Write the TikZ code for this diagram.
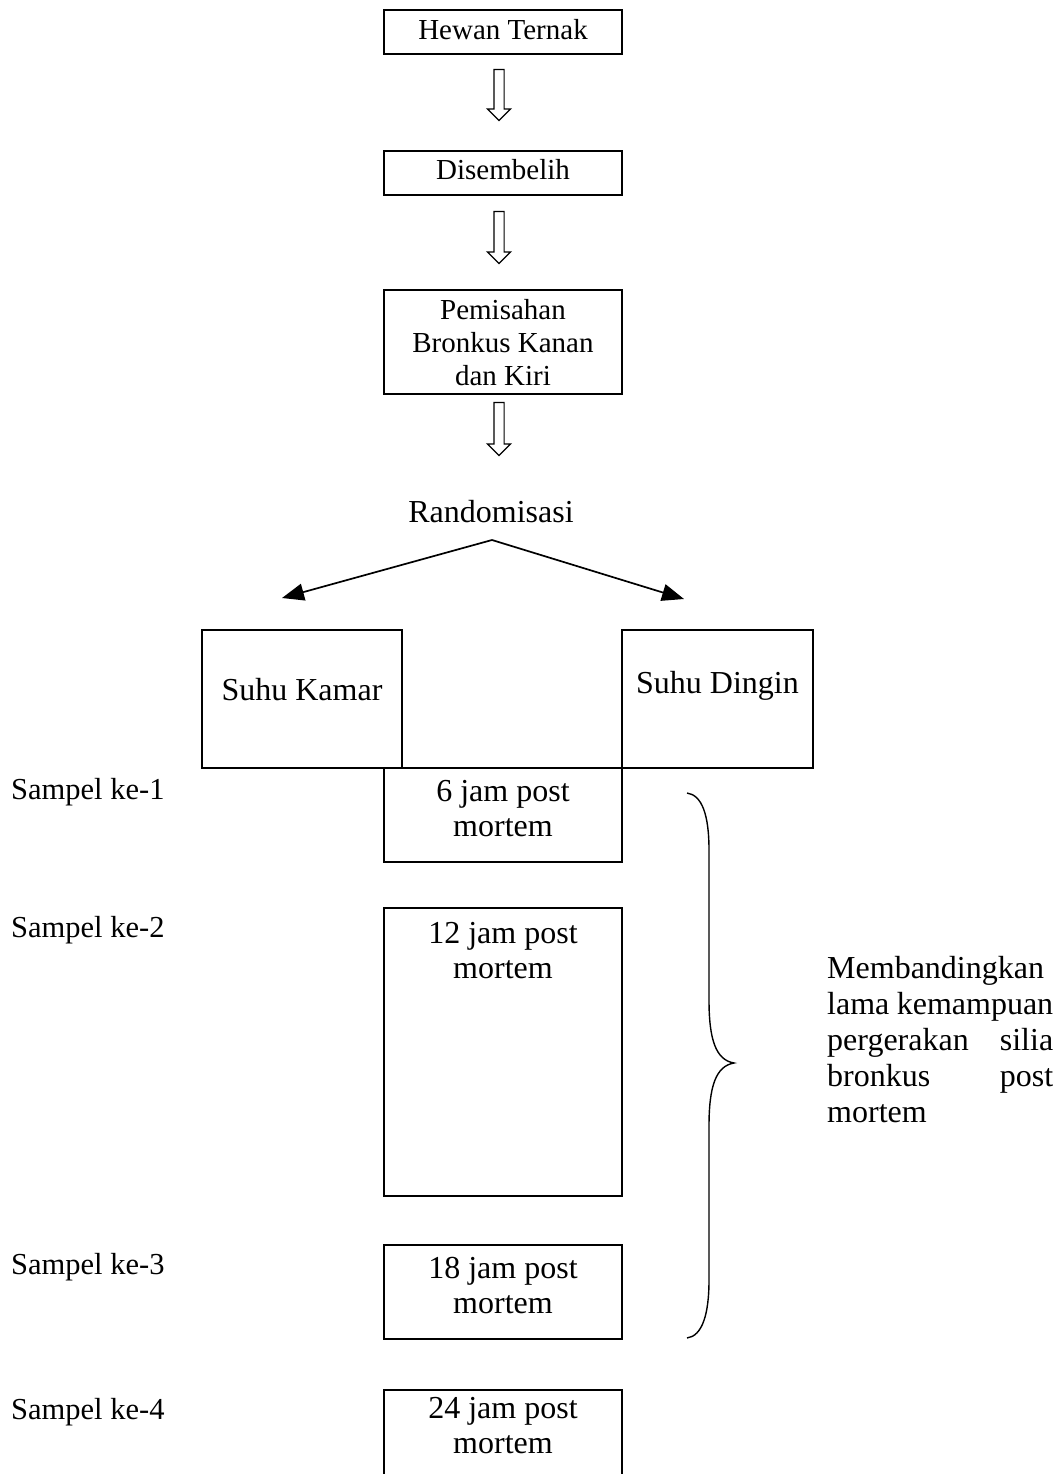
\documentclass[tikz,border=0pt]{standalone}
\usepackage{fontspec}
\setmainfont{Liberation Serif}
\usetikzlibrary{shapes.arrows,arrows.meta,calc}
\begin{document}
\begin{tikzpicture}[x=1pt,y=-1pt,
  box/.style={draw,line width=1.8pt,rectangle,inner sep=0pt,minimum width=238pt},
  smalltxt/.style={font=\fontsize{29}{33}\selectfont,align=center,inner sep=0pt},
  bigtxt/.style={font=\fontsize{32}{34.5}\selectfont,align=center,inner sep=0pt},
  sidetxt/.style={font=\fontsize{30.5}{34}\selectfont,inner sep=0pt},
  hollow/.style={draw,line width=1.2pt,single arrow,shape border rotate=270,
    inner sep=4.5pt,single arrow head extend=6.5pt,single arrow tip angle=90},
  splitarrow/.style={line width=1.7pt,-{Triangle[length=22pt,width=17pt]}},
  bracestyle/.style={line width=1.4pt}]
\useasboundingbox (0,0) rectangle (1064,1474);
\clip (0,0) rectangle (1064,1474);
\fill[white] (0,0) rectangle (1064,1474);

% top chain
\node[box,minimum height=44pt] (hewan) at (503,32) {};
\node[smalltxt] (thewan) at (503,30) {Hewan Ternak};
\node[hollow,minimum height=51pt] (a1) at (499,92.5) {};
\node[box,minimum height=44pt] (disembelih) at (503,173) {};
\node[smalltxt] (tdisembelih) at (503,170) {Disembelih};
\node[hollow,minimum height=52pt] (a2) at (499,235) {};
\node[box,minimum height=104pt] (pemisahan) at (503,342) {};
\node[smalltxt] (tpemisahan) at (503,343) {Pemisahan\\Bronkus Kanan\\dan Kiri};
\node[hollow,minimum height=53pt] (a3) at (499,426.5) {};

% randomisation
\node[bigtxt] (random) at (491,512) {Randomisasi};
\coordinate (apex) at (492,540);
\coordinate (ltip) at (282,598);
\coordinate (rtip) at (684,599);
\draw[splitarrow] (apex) -- (ltip);
\draw[splitarrow] (apex) -- (rtip);

% temperature boxes
\node[box,minimum width=200pt,minimum height=138pt] (kamar) at (302,699) {};
\node[bigtxt] (tkamar) at (302,690) {Suhu Kamar};
\node[box,minimum width=191pt,minimum height=138pt] (dingin) at (717.5,699) {};
\node[bigtxt] (tdingin) at (717.5,686) {Suhu Dingin};

% time boxes
\node[box,minimum height=94pt] (b6) at (503,815) {};
\node[bigtxt] (t6) at (503,808.5) {6 jam post\\mortem};
\node[box,minimum height=288pt] (b12) at (503,1052) {};
\node[bigtxt] (t12) at (503,950.5) {12 jam post\\mortem};
\node[box,minimum height=94pt] (b18) at (503,1292) {};
\node[bigtxt] (t18) at (503,1285.5) {18 jam post\\mortem};
\node[box,minimum height=200pt] (b24) at (503,1490) {};
\node[bigtxt] (t24) at (503,1425.5) {24 jam post\\mortem};

% sample labels
\node[sidetxt,anchor=west] (s1) at (11,792) {Sampel ke-1};
\node[sidetxt,anchor=west] (s2) at (11,930) {Sampel ke-2};
\node[sidetxt,anchor=west] (s3) at (11,1267) {Sampel ke-3};
\node[sidetxt,anchor=west] (s4) at (11,1412) {Sampel ke-4};

% brace
\coordinate (btop) at (687,793);
\coordinate (btip) at (734,1063);
\coordinate (bbot) at (687,1338);
\draw[bracestyle] (btop) .. controls (702,795) and (709,815) .. (709,850)
  -- (709,1000) .. controls (709,1040) and (716,1060) .. (btip)
  .. controls (716,1066) and (709,1086) .. (709,1126)
  -- (709,1280) .. controls (709,1315) and (702,1336) .. (bbot);

% comparison text
\node[anchor=west,inner sep=0pt,align=left,font=\fontsize{32}{36}\selectfont] (compare) at (827,1040)
  {Membandingkan\\
   \makebox[226pt][s]{lama kemampuan}\\
   \makebox[226pt][s]{pergerakan silia}\\
   \makebox[226pt][s]{bronkus post}\\
   mortem};
\end{tikzpicture}
\end{document}
